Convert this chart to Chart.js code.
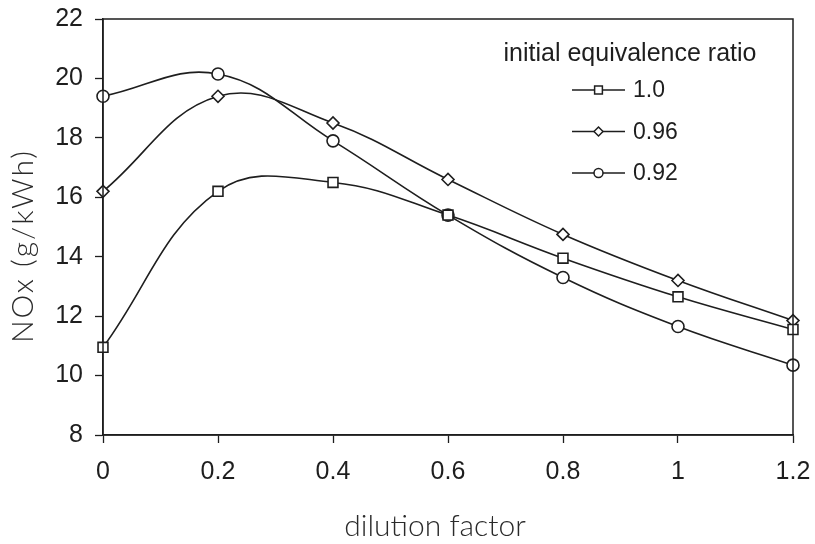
<!DOCTYPE html>
<html lang="en">
<head>
    <meta charset="UTF-8">
    <title>NOx vs dilution factor</title>
    <script src="https://cdn.jsdelivr.net/npm/chart.js"></script>
    <style>
        html, body { margin: 0; padding: 0; background: #fff; }
        #wrap { width: 815px; height: 544px; }
    </style>
</head>
<body>
    <div id="wrap"><canvas id="nox-chart" width="815" height="544"></canvas></div>

    <script>
        // dilution factor (x) and NOx in g/kWh for each initial equivalence ratio
        const dilution = [0, 0.2, 0.4, 0.6, 0.8, 1.0, 1.2];
        const noxPhi100 = [10.95, 16.2, 16.5, 15.4, 13.95, 12.65, 11.55];
        const noxPhi096 = [16.2, 19.4, 18.5, 16.6, 14.75, 13.2, 11.85];
        const noxPhi092 = [19.4, 20.15, 17.9, 15.4, 13.3, 11.65, 10.35];
        const seriesLabels = ['1.0', '0.96', '0.92'];
        const legendTitle = 'initial equivalence ratio';
        const xTitle = 'dilution factor';
        const yTitle = 'NOx (g/kWh)';

        const ink = '#1e1e1e';
        const tickFont = { family: '"Liberation Sans", Arial, sans-serif', size: 25 };
        const titleFont = '300 30px Lato, "Open Sans", sans-serif';

        function toPoints(values) {
            return dilution.map((x, i) => ({ x: x, y: values[i] }));
        }

        function makeSeries(label, values, style, radius) {
            return {
                label: label,
                data: toPoints(values),
                borderColor: ink,
                borderWidth: 1.6,
                pointStyle: style,
                pointRadius: radius,
                pointHoverRadius: radius,
                pointBackgroundColor: '#fff',
                pointBorderColor: ink,
                pointBorderWidth: 1.6,
                tension: 0.4,
                clip: false,
                fill: false
            };
        }

        // box round the plot area
        const frame = {
            id: 'frame',
            afterDatasetsDraw(chart) {
                const a = chart.chartArea, ctx = chart.ctx;
                ctx.save();
                ctx.strokeStyle = ink;
                ctx.lineWidth = 1.5;
                ctx.strokeRect(a.left, a.top, a.right - a.left, a.bottom - a.top);
                ctx.restore();
            }
        };

        // axis titles, placed a little off-centre as in the original figure
        const axisTitles = {
            id: 'axisTitles',
            afterDraw(chart) {
                const ctx = chart.ctx, a = chart.chartArea;
                ctx.save();
                ctx.fillStyle = '#2a2a2a';
                ctx.font = titleFont;
                ctx.textAlign = 'center';
                ctx.textBaseline = 'alphabetic';
                ctx.fillText(xTitle, a.left + 332, 536);
                ctx.translate(33, a.top + 227);
                ctx.rotate(-Math.PI / 2);
                ctx.letterSpacing = '2px';
                ctx.fillText(yTitle, 0, 0);
                ctx.restore();
            }
        };

        // legend drawn inside the plot, upper right
        const innerLegend = {
            id: 'innerLegend',
            afterDraw(chart) {
                const ctx = chart.ctx, a = chart.chartArea;
                ctx.save();
                ctx.fillStyle = ink;
                ctx.textBaseline = 'middle';
                ctx.font = '25px "Liberation Sans", Arial, sans-serif';
                ctx.textAlign = 'center';
                ctx.fillText(legendTitle, a.right - 163, a.top + 35);
                ctx.font = '23px "Liberation Sans", Arial, sans-serif';
                ctx.textAlign = 'left';
                chart.data.datasets.forEach((ds, i) => {
                    const y = a.top + 71 + i * 41.5;
                    const x0 = a.right - 221, x1 = a.right - 168;
                    ctx.strokeStyle = ink;
                    ctx.lineWidth = 1.5;
                    ctx.beginPath();
                    ctx.moveTo(x0, y);
                    ctx.lineTo(x1, y);
                    ctx.stroke();
                    ctx.fillStyle = '#fff';
                    Chart.helpers.drawPoint(ctx, {
                        pointStyle: ds.pointStyle,
                        radius: ds.pointRadius - 1.5,
                        rotation: 0,
                        borderWidth: 1.4
                    }, (x0 + x1) / 2, y);
                    ctx.fillStyle = ink;
                    ctx.fillText(ds.label, a.right - 160, y + 1);
                });
                ctx.restore();
            }
        };

        new Chart(document.getElementById('nox-chart'), {
            type: 'line',
            data: {
                datasets: [
                    makeSeries(seriesLabels[0], noxPhi100, 'rect', 7),
                    makeSeries(seriesLabels[1], noxPhi096, 'rectRot', 6),
                    makeSeries(seriesLabels[2], noxPhi092, 'circle', 6)
                ]
            },
            options: {
                responsive: false,
                animation: false,
                events: [],
                layout: { padding: { top: 19, right: 22, bottom: 0, left: 0 } },
                plugins: {
                    legend: { display: false },
                    tooltip: { enabled: false }
                },
                scales: {
                    x: {
                        type: 'linear',
                        min: 0,
                        max: 1.2,
                        afterFit: s => {
                            s.height = 109;
                            s.paddingLeft = 0;
                            s.paddingRight = 0;
                        },
                        border: { display: true, color: ink, width: 1.5 },
                        grid: { drawOnChartArea: false, color: ink, tickLength: 8, tickWidth: 1.3 },
                        ticks: {
                            stepSize: 0.2,
                            color: ink,
                            font: tickFont,
                            padding: 14,
                            maxRotation: 0,
                            callback: v => String(Number(v.toFixed(1)))
                        }
                    },
                    y: {
                        min: 8,
                        max: 22,
                        afterFit: s => {
                            s.width = 103;
                            s.paddingTop = 0;
                            s.paddingBottom = 0;
                        },
                        border: { display: true, color: ink, width: 1.5 },
                        grid: { drawOnChartArea: false, color: ink, tickLength: 8, tickWidth: 1.3 },
                        ticks: {
                            stepSize: 2,
                            color: ink,
                            font: tickFont,
                            padding: 12
                        }
                    }
                }
            },
            plugins: [frame, axisTitles, innerLegend]
        });
    </script>
</body>
</html>
